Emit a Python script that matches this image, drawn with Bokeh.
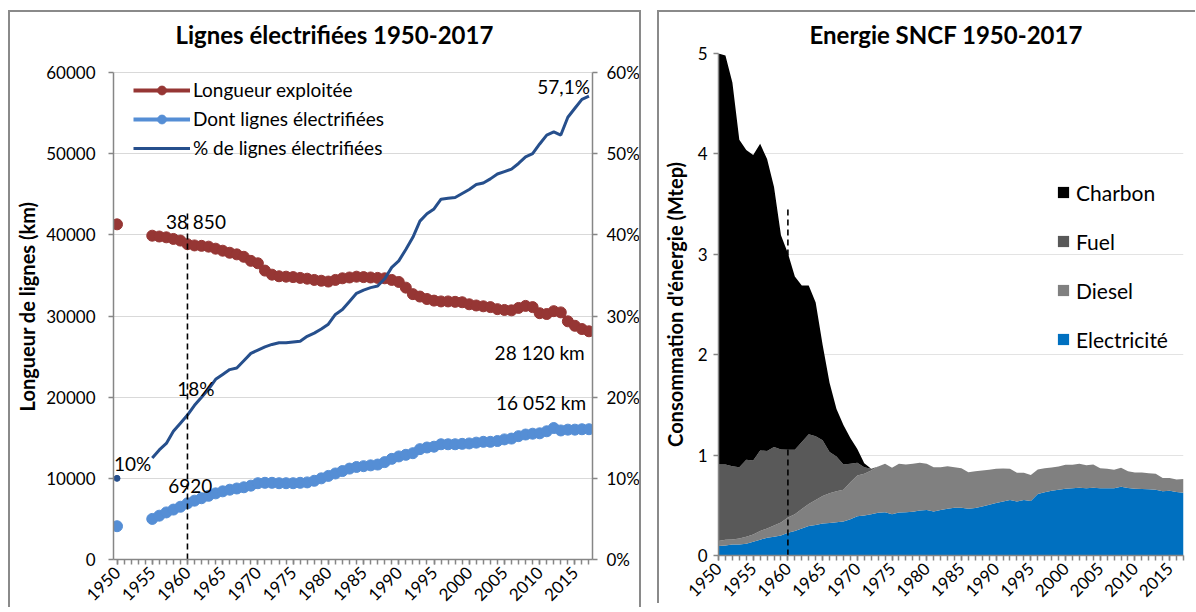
import math
from bokeh.plotting import figure
from bokeh.models import (Range1d, LinearAxis, FixedTicker, NumeralTickFormatter,
                          PrintfTickFormatter, Legend, LegendItem, Label, Title, ColumnDataSource)
from bokeh.layouts import row
from bokeh.embed import file_html
from bokeh.resources import INLINE

nan = float("nan")

# ---------------- data ----------------
years = list(range(1950, 2018))
label_years = list(range(1950, 2016, 5))
ref_year = 1960

longueur = [41300, nan, nan, nan, nan, 39900, 39800, 39700, 39500, 39300,
            38850, 38700, 38650, 38550, 38300, 38050, 37800, 37600, 37300, 36800,
            36500, 35600, 35100, 34900, 34850, 34800, 34700, 34600, 34450, 34350,
            34250, 34450, 34650, 34750, 34850, 34800, 34750, 34700, 34650, 34450,
            34200, 33500, 32700, 32400, 32100, 31900, 31800, 31800, 31750, 31700,
            31450, 31300, 31200, 31100, 30850, 30750, 30700, 31000, 31250, 31100,
            30350, 30250, 30600, 30450, 29350, 28800, 28400, 28120]

electrifiees = [4100, nan, nan, nan, nan, 5000, 5400, 5800, 6150, 6500,
                6920, 7250, 7550, 7850, 8150, 8400, 8600, 8750, 8900, 9100,
                9400, 9450, 9450, 9400, 9400, 9400, 9450, 9500, 9700, 10000,
                10300, 10600, 10900, 11200, 11400, 11500, 11600, 11700, 12000, 12400,
                12700, 12900, 13100, 13600, 13800, 13900, 14200, 14200, 14200, 14250,
                14300, 14400, 14500, 14500, 14600, 14800, 14900, 15200, 15400, 15500,
                15550, 15800, 16200, 15900, 16000, 16000, 16050, 16052]

pct_elec = [10.0, nan, nan, nan, nan, 12.5, 13.5, 14.3, 15.8, 16.8,
            17.8, 19.0, 20.0, 21.0, 22.2, 22.8, 23.4, 23.6, 24.5, 25.4,
            25.8, 26.2, 26.5, 26.7, 26.7, 26.8, 26.9, 27.5, 27.9, 28.4,
            29.0, 30.2, 30.8, 31.8, 32.8, 33.2, 33.5, 33.7, 34.6, 36.0,
            36.8, 38.2, 39.7, 41.7, 42.6, 43.2, 44.4, 44.5, 44.6, 45.1,
            45.6, 46.2, 46.4, 46.9, 47.5, 47.8, 48.1, 48.8, 49.6, 50.0,
            51.2, 52.3, 52.7, 52.3, 54.5, 55.6, 56.7, 57.1]

# Energie SNCF (Mtep)
electricite = [0.094, 0.100, 0.110, 0.110, 0.117, 0.137, 0.157, 0.177, 0.187, 0.200,
               0.227, 0.244, 0.268, 0.294, 0.304, 0.318, 0.324, 0.331, 0.338, 0.361,
               0.391, 0.398, 0.411, 0.425, 0.431, 0.411, 0.428, 0.431, 0.435, 0.448,
               0.452, 0.438, 0.452, 0.465, 0.475, 0.475, 0.465, 0.472, 0.488, 0.505,
               0.522, 0.538, 0.552, 0.538, 0.552, 0.542, 0.612, 0.629, 0.645, 0.655,
               0.666, 0.669, 0.676, 0.669, 0.676, 0.669, 0.669, 0.669, 0.686, 0.672,
               0.666, 0.662, 0.659, 0.656, 0.639, 0.645, 0.632, 0.625]
diesel = [0.050, 0.057, 0.050, 0.060, 0.070, 0.073, 0.087, 0.093, 0.113, 0.128,
          0.151, 0.167, 0.194, 0.218, 0.248, 0.274, 0.295, 0.308, 0.317, 0.368,
          0.405, 0.415, 0.435, 0.461, 0.482, 0.462, 0.485, 0.475, 0.478, 0.475,
          0.461, 0.442, 0.428, 0.425, 0.405, 0.395, 0.364, 0.367, 0.358, 0.348,
          0.341, 0.328, 0.311, 0.285, 0.271, 0.261, 0.244, 0.241, 0.231, 0.231,
          0.237, 0.234, 0.237, 0.231, 0.230, 0.201, 0.194, 0.184, 0.187, 0.167,
          0.160, 0.164, 0.160, 0.157, 0.134, 0.128, 0.124, 0.138]
fuel = [0.762, 0.749, 0.730, 0.710, 0.766, 0.736, 0.803, 0.770, 0.780, 0.729,
        0.676, 0.643, 0.668, 0.695, 0.635, 0.555, 0.411, 0.348, 0.251, 0.184,
        0.127, 0.067, 0.017, 0, 0, 0, 0, 0, 0, 0,
        0, 0, 0, 0, 0, 0, 0, 0, 0, 0,
        0, 0, 0, 0, 0, 0, 0, 0, 0, 0,
        0, 0, 0, 0, 0, 0, 0, 0, 0, 0,
        0, 0, 0, 0, 0, 0, 0, 0]
charbon = [4.094, 4.074, 3.820, 3.260, 3.087, 3.044, 3.053, 2.910, 2.590, 2.133,
           1.956, 1.726, 1.560, 1.483, 1.333, 0.953, 0.690, 0.473, 0.394, 0.257,
           0.137, 0.040, 0, 0, 0, 0, 0, 0, 0, 0,
           0, 0, 0, 0, 0, 0, 0, 0, 0, 0,
           0, 0, 0, 0, 0, 0, 0, 0, 0, 0,
           0, 0, 0, 0, 0, 0, 0, 0, 0, 0,
           0, 0, 0, 0, 0, 0, 0, 0]

FONT = "Lato"
AX_COL = "#868686"
BORDER = "2px solid #8a8a8a"
TICK_FS = "17px"


def style_axis(ax, minor=False):
    ax.axis_line_color = AX_COL
    ax.axis_line_width = 1.5
    ax.major_tick_line_color = AX_COL
    ax.major_tick_line_width = 1.5
    ax.minor_tick_line_color = AX_COL
    ax.minor_tick_line_width = 1.5
    ax.major_tick_in = 0
    ax.major_tick_out = 5
    ax.minor_tick_in = 0
    ax.minor_tick_out = 5 if minor else 0
    ax.major_label_text_font = FONT
    ax.major_label_text_font_size = TICK_FS
    ax.major_label_text_color = "#000000"
    ax.axis_label_text_font = FONT
    ax.axis_label_text_font_style = "bold"
    ax.axis_label_text_font_size = "20px"
    ax.axis_label_text_color = "#000000"


# ---------------- left chart ----------------
src = ColumnDataSource(dict(year=years, lon=longueur, ele=electrifiees, pct=pct_elec))

Y_TOP = 60000
# frame extends ~19px above the 60000 line so that both panels share one top border
y_extra = 19 / 80.83 * 10000

p1 = figure(frame_width=475, frame_height=504, min_border_left=103, min_border_right=51,
            min_border_top=40, min_border_bottom=50, output_backend="svg",
            toolbar_location=None, x_range=Range1d(1949.5, 2017.5),
            y_range=Range1d(0, Y_TOP + y_extra))
p1.extra_y_ranges = {"pct": Range1d(0, (Y_TOP + y_extra) / 1000)}
p1.outline_line_color = None
p1.background_fill_color = "white"
p1.border_fill_color = "white"
p1.margin = (10, 0, 0, 8)
p1.styles = {"border-left": BORDER, "border-top": BORDER, "border-right": BORDER}

yt = FixedTicker(ticks=list(range(0, Y_TOP + 1, 10000)), minor_ticks=[])
p1.yaxis.ticker = yt
p1.yaxis.formatter = NumeralTickFormatter(format="0")
p1.yaxis.axis_label = "Longueur de lignes (km)"
p1.yaxis.bounds = (0, Y_TOP)
p1.yaxis.major_label_standoff = 13
p1.yaxis.axis_label_standoff = 4
style_axis(p1.yaxis[0])
p1.ygrid.ticker = yt
p1.ygrid.grid_line_color = "#d9d9d9"
p1.xgrid.grid_line_color = None

xt = FixedTicker(ticks=label_years, minor_ticks=years)
p1.xaxis.ticker = xt
p1.xaxis.major_label_orientation = math.pi / 4
p1.xaxis.major_label_standoff = 5
style_axis(p1.xaxis[0], minor=True)

ax_r = LinearAxis(y_range_name="pct", ticker=FixedTicker(ticks=list(range(0, 61, 10)), minor_ticks=[]),
                  formatter=PrintfTickFormatter(format="%d%%"), bounds=(0, 60))
style_axis(ax_r)
ax_r.major_label_standoff = 9
p1.add_layout(ax_r, "right")

RED = "#963634"
LBLUE = "#558ed5"
DBLUE = "#264f8c"

l_red = p1.line("year", "lon", source=src, line_color=RED, line_width=4)
s_red = p1.scatter("year", "lon", source=src, size=11, fill_color=RED, line_color=RED)
l_lb = p1.line("year", "ele", source=src, line_color=LBLUE, line_width=4)
s_lb = p1.scatter("year", "ele", source=src, size=11, fill_color=LBLUE, line_color=LBLUE)
l_db = p1.line("year", "pct", source=src, line_color=DBLUE, line_width=3, y_range_name="pct")
p1.scatter(x=[years[0]], y=[pct_elec[0]], size=6, color=DBLUE, y_range_name="pct")

p1.segment(x0=[ref_year], y0=[0], x1=[ref_year], y1=[43000], line_color="black",
           line_width=1.6, line_dash="6 4")

leg1 = Legend(items=[LegendItem(label="Longueur exploitée", renderers=[l_red, s_red]),
                     LegendItem(label="Dont lignes électrifiées", renderers=[l_lb, s_lb]),
                     LegendItem(label="% de lignes électrifiées", renderers=[l_db])],
              location=(20, 400), glyph_width=57, glyph_height=22, label_height=22,
              spacing=6, padding=0, margin=0, label_standoff=3,
              border_line_color=None, background_fill_alpha=0,
              label_text_font=FONT, label_text_font_size="19px", label_text_color="#000000")
p1.add_layout(leg1, "center")

ann = [("38 850", 1961.2, 41600), ("6920", 1960.4, 9030), ("18%", 1961.2, 21040),
       ("10%", 1952.2, 11880), ("57,1%", 2013.4, 58290), ("28 120 km", 2010.0, 25500),
       ("16 052 km", 2010.2, 19300)]
for t, x, y in ann:
    p1.add_layout(Label(x=x, y=y, text=t, text_align="center", text_baseline="middle",
                        text_font=FONT, text_font_size="19px", text_color="#000000"))

p1.add_layout(Title(text="Lignes électrifiées 1950-2017", align="left", offset=62,
                    text_font=FONT, text_font_style="bold", text_font_size="24px",
                    text_color="#000000", standoff=10), "above")

# ---------------- right chart ----------------
src2 = ColumnDataSource(dict(year=years, elec=electricite, diesel=diesel, fuel=fuel, charbon=charbon))

p2 = figure(frame_width=463, frame_height=500, min_border_left=58, min_border_right=14,
            min_border_top=40, min_border_bottom=50, output_backend="svg",
            toolbar_location=None, x_range=Range1d(1950, 2017), y_range=Range1d(0, 5))
p2.outline_line_color = None
p2.margin = (10, 0, 0, 16)
p2.styles = {"border-left": BORDER, "border-top": BORDER}

yt2 = FixedTicker(ticks=[0, 1, 2, 3, 4, 5], minor_ticks=[])
p2.yaxis.ticker = yt2
p2.yaxis.axis_label = "Consommation d'énergie (Mtep)"
p2.yaxis.major_label_standoff = 6
p2.yaxis.axis_label_standoff = 8
style_axis(p2.yaxis[0])
p2.ygrid.ticker = yt2
p2.ygrid.grid_line_color = "#e3e3e3"
p2.xgrid.grid_line_color = None
p2.xaxis.ticker = FixedTicker(ticks=label_years, minor_ticks=years)
p2.xaxis.major_label_orientation = math.pi / 4
p2.xaxis.major_label_standoff = 5
style_axis(p2.xaxis[0], minor=True)

rs = p2.varea_stack(stackers=["elec", "diesel", "fuel", "charbon"], x="year", source=src2,
                    color=["#0070c0", "#808080", "#595959", "#000000"])

p2.segment(x0=[ref_year], y0=[0], x1=[ref_year], y1=[3.45], line_color="black",
           line_width=1.6, line_dash="6 4")

leg2 = Legend(items=[LegendItem(label="Charbon", renderers=[rs[3]]),
                     LegendItem(label="Fuel", renderers=[rs[2]]),
                     LegendItem(label="Diesel", renderers=[rs[1]]),
                     LegendItem(label="Electricité", renderers=[rs[0]])],
              location=(338, 203), glyph_width=14, glyph_height=14, label_height=26,
              spacing=23, padding=0, margin=0, label_standoff=6,
              border_line_color=None, background_fill_alpha=0,
              label_text_font=FONT, label_text_font_size="21px", label_text_color="#000000")
p2.add_layout(leg2, "center")

p2.add_layout(Title(text="Energie SNCF 1950-2017", align="left", offset=91,
                    text_font=FONT, text_font_style="bold", text_font_size="24px",
                    text_color="#000000", standoff=10), "above")

layout = row(p1, p2)
open("out.html", "w").write(file_html(layout, INLINE))
